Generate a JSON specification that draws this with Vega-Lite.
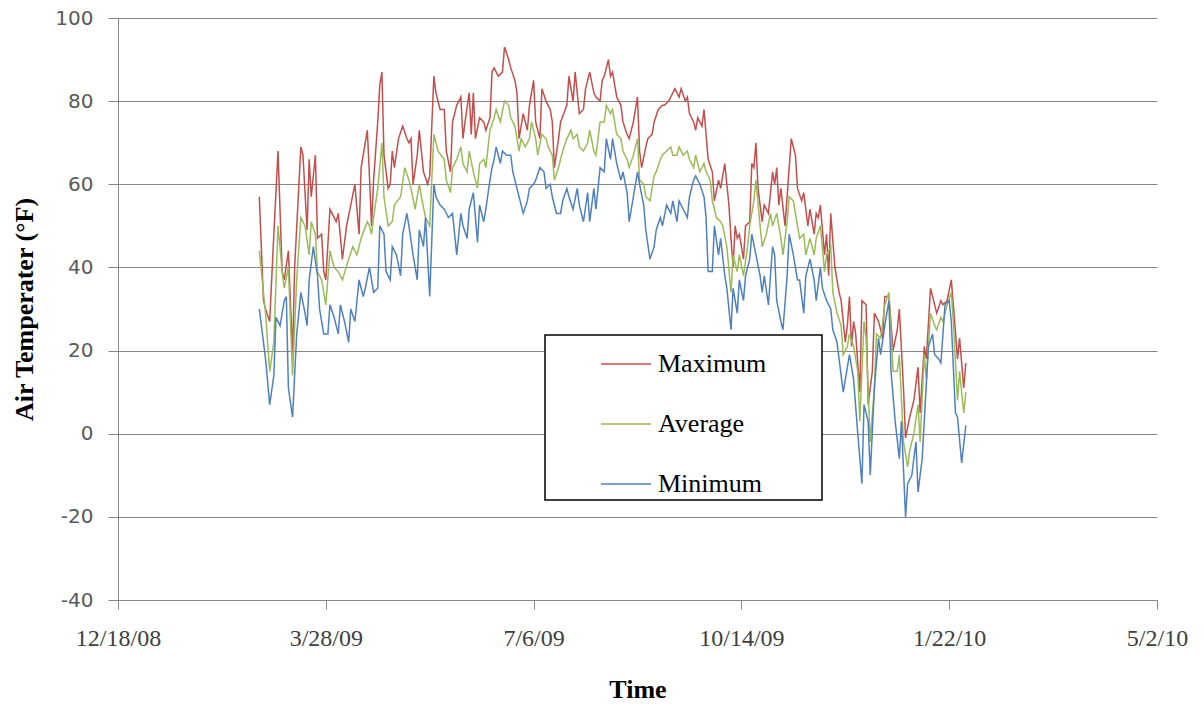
{
  "$schema": "https://vega.github.io/schema/vega-lite/v6.json",
  "width": 1039,
  "height": 582,
  "autosize": {"type": "none"},
  "padding": {"left": 118, "top": 18, "right": 47, "bottom": 107},
  "background": "white",
  "config": {
    "view": {"stroke": null},
    "legend": {"strokeWidth": 1.5}
  },
  "datasets": {
    "maximum": [
      {"date":"2009-02-24","temp":57},{"date":"2009-02-26","temp":32},{"date":"2009-02-27","temp":30},{"date":"2009-03-01","temp":27},{"date":"2009-03-03","temp":48},{"date":"2009-03-05","temp":68},{"date":"2009-03-07","temp":39},{"date":"2009-03-08","temp":37},{"date":"2009-03-10","temp":44},{"date":"2009-03-12","temp":19},{"date":"2009-03-13","temp":40},{"date":"2009-03-16","temp":69},{"date":"2009-03-17","temp":67},{"date":"2009-03-19","temp":49},{"date":"2009-03-20","temp":66},{"date":"2009-03-21","temp":57},{"date":"2009-03-23","temp":67},{"date":"2009-03-24","temp":47},{"date":"2009-03-26","temp":48},{"date":"2009-03-27","temp":39},{"date":"2009-03-28","temp":37},{"date":"2009-03-30","temp":54},{"date":"2009-03-31","temp":53},{"date":"2009-04-02","temp":51},{"date":"2009-04-03","temp":53},{"date":"2009-04-05","temp":42},{"date":"2009-04-07","temp":50},{"date":"2009-04-09","temp":55},{"date":"2009-04-11","temp":60},{"date":"2009-04-13","temp":48},{"date":"2009-04-14","temp":64},{"date":"2009-04-17","temp":73},{"date":"2009-04-18","temp":62},{"date":"2009-04-19","temp":50},{"date":"2009-04-20","temp":61},{"date":"2009-04-22","temp":75},{"date":"2009-04-23","temp":84},{"date":"2009-04-24","temp":87},{"date":"2009-04-25","temp":67},{"date":"2009-04-27","temp":59},{"date":"2009-04-28","temp":60},{"date":"2009-04-29","temp":68},{"date":"2009-04-30","temp":64},{"date":"2009-05-02","temp":71},{"date":"2009-05-04","temp":74},{"date":"2009-05-06","temp":71},{"date":"2009-05-07","temp":70},{"date":"2009-05-08","temp":71},{"date":"2009-05-09","temp":60},{"date":"2009-05-11","temp":67},{"date":"2009-05-12","temp":73},{"date":"2009-05-14","temp":63},{"date":"2009-05-16","temp":60},{"date":"2009-05-17","temp":62},{"date":"2009-05-19","temp":86},{"date":"2009-05-20","temp":82},{"date":"2009-05-22","temp":78},{"date":"2009-05-24","temp":78},{"date":"2009-05-25","temp":68},{"date":"2009-05-27","temp":63},{"date":"2009-05-28","temp":75},{"date":"2009-05-30","temp":79},{"date":"2009-06-01","temp":81},{"date":"2009-06-02","temp":71},{"date":"2009-06-03","temp":75},{"date":"2009-06-05","temp":82},{"date":"2009-06-06","temp":72},{"date":"2009-06-07","temp":82},{"date":"2009-06-08","temp":71},{"date":"2009-06-10","temp":76},{"date":"2009-06-12","temp":75},{"date":"2009-06-13","temp":73},{"date":"2009-06-15","temp":76},{"date":"2009-06-16","temp":87},{"date":"2009-06-17","temp":88},{"date":"2009-06-19","temp":86},{"date":"2009-06-21","temp":87},{"date":"2009-06-22","temp":93},{"date":"2009-06-24","temp":90},{"date":"2009-06-25","temp":88},{"date":"2009-06-27","temp":85},{"date":"2009-06-28","temp":82},{"date":"2009-06-29","temp":71},{"date":"2009-07-01","temp":77},{"date":"2009-07-03","temp":73},{"date":"2009-07-04","temp":79},{"date":"2009-07-06","temp":85},{"date":"2009-07-07","temp":75},{"date":"2009-07-09","temp":71},{"date":"2009-07-10","temp":83},{"date":"2009-07-12","temp":80},{"date":"2009-07-14","temp":78},{"date":"2009-07-15","temp":75},{"date":"2009-07-16","temp":64},{"date":"2009-07-18","temp":71},{"date":"2009-07-19","temp":75},{"date":"2009-07-22","temp":79},{"date":"2009-07-23","temp":86},{"date":"2009-07-25","temp":80},{"date":"2009-07-26","temp":87},{"date":"2009-07-28","temp":77},{"date":"2009-07-30","temp":78},{"date":"2009-07-31","temp":83},{"date":"2009-08-02","temp":87},{"date":"2009-08-04","temp":82},{"date":"2009-08-05","temp":81},{"date":"2009-08-07","temp":80},{"date":"2009-08-08","temp":85},{"date":"2009-08-09","temp":86},{"date":"2009-08-11","temp":90},{"date":"2009-08-12","temp":86},{"date":"2009-08-13","temp":87},{"date":"2009-08-14","temp":84},{"date":"2009-08-15","temp":81},{"date":"2009-08-17","temp":79},{"date":"2009-08-18","temp":75},{"date":"2009-08-20","temp":72},{"date":"2009-08-21","temp":71},{"date":"2009-08-23","temp":75},{"date":"2009-08-25","temp":81},{"date":"2009-08-26","temp":68},{"date":"2009-08-27","temp":64},{"date":"2009-08-29","temp":69},{"date":"2009-08-30","temp":71},{"date":"2009-09-01","temp":72},{"date":"2009-09-02","temp":75},{"date":"2009-09-04","temp":78},{"date":"2009-09-06","temp":79},{"date":"2009-09-07","temp":79},{"date":"2009-09-09","temp":80},{"date":"2009-09-10","temp":81},{"date":"2009-09-12","temp":83},{"date":"2009-09-14","temp":81},{"date":"2009-09-15","temp":83},{"date":"2009-09-17","temp":80},{"date":"2009-09-18","temp":81},{"date":"2009-09-19","temp":77},{"date":"2009-09-21","temp":75},{"date":"2009-09-22","temp":73},{"date":"2009-09-23","temp":76},{"date":"2009-09-25","temp":74},{"date":"2009-09-26","temp":78},{"date":"2009-09-28","temp":66},{"date":"2009-09-30","temp":63},{"date":"2009-10-01","temp":56},{"date":"2009-10-03","temp":61},{"date":"2009-10-04","temp":59},{"date":"2009-10-06","temp":65},{"date":"2009-10-08","temp":55},{"date":"2009-10-09","temp":47},{"date":"2009-10-10","temp":40},{"date":"2009-10-11","temp":50},{"date":"2009-10-12","temp":47},{"date":"2009-10-13","temp":48},{"date":"2009-10-15","temp":42},{"date":"2009-10-16","temp":50},{"date":"2009-10-18","temp":51},{"date":"2009-10-19","temp":65},{"date":"2009-10-20","temp":64},{"date":"2009-10-21","temp":70},{"date":"2009-10-22","temp":59},{"date":"2009-10-24","temp":51},{"date":"2009-10-25","temp":55},{"date":"2009-10-27","temp":53},{"date":"2009-10-29","temp":63},{"date":"2009-10-30","temp":60},{"date":"2009-10-31","temp":64},{"date":"2009-11-01","temp":55},{"date":"2009-11-02","temp":59},{"date":"2009-11-04","temp":50},{"date":"2009-11-06","temp":64},{"date":"2009-11-07","temp":71},{"date":"2009-11-09","temp":67},{"date":"2009-11-10","temp":59},{"date":"2009-11-12","temp":56},{"date":"2009-11-13","temp":58},{"date":"2009-11-15","temp":50},{"date":"2009-11-16","temp":54},{"date":"2009-11-18","temp":48},{"date":"2009-11-19","temp":53},{"date":"2009-11-20","temp":52},{"date":"2009-11-21","temp":55},{"date":"2009-11-23","temp":43},{"date":"2009-11-24","temp":48},{"date":"2009-11-25","temp":38},{"date":"2009-11-26","temp":53},{"date":"2009-11-28","temp":40},{"date":"2009-11-30","temp":34},{"date":"2009-12-01","temp":32},{"date":"2009-12-03","temp":22},{"date":"2009-12-04","temp":26},{"date":"2009-12-05","temp":33},{"date":"2009-12-06","temp":21},{"date":"2009-12-07","temp":27},{"date":"2009-12-08","temp":24},{"date":"2009-12-10","temp":10},{"date":"2009-12-11","temp":32},{"date":"2009-12-13","temp":31},{"date":"2009-12-14","temp":7},{"date":"2009-12-16","temp":15},{"date":"2009-12-17","temp":29},{"date":"2009-12-19","temp":27},{"date":"2009-12-21","temp":23},{"date":"2009-12-22","temp":33},{"date":"2009-12-24","temp":33},{"date":"2009-12-26","temp":20},{"date":"2009-12-28","temp":25},{"date":"2009-12-29","temp":30},{"date":"2009-12-31","temp":11},{"date":"2010-01-01","temp":-1},{"date":"2010-01-03","temp":4},{"date":"2010-01-05","temp":8},{"date":"2010-01-07","temp":16},{"date":"2010-01-08","temp":5},{"date":"2010-01-10","temp":21},{"date":"2010-01-11","temp":18},{"date":"2010-01-13","temp":35},{"date":"2010-01-15","temp":31},{"date":"2010-01-16","temp":29},{"date":"2010-01-18","temp":32},{"date":"2010-01-19","temp":31},{"date":"2010-01-21","temp":32},{"date":"2010-01-23","temp":37},{"date":"2010-01-24","temp":31},{"date":"2010-01-26","temp":18},{"date":"2010-01-27","temp":23},{"date":"2010-01-29","temp":11},{"date":"2010-01-30","temp":17}
    ],
    "average": [
      {"date":"2009-02-24","temp":44},{"date":"2009-02-27","temp":29},{"date":"2009-03-01","temp":15},{"date":"2009-03-03","temp":22},{"date":"2009-03-05","temp":50},{"date":"2009-03-07","temp":39},{"date":"2009-03-08","temp":35},{"date":"2009-03-10","temp":40},{"date":"2009-03-12","temp":14},{"date":"2009-03-14","temp":37},{"date":"2009-03-16","temp":52},{"date":"2009-03-18","temp":50},{"date":"2009-03-20","temp":43},{"date":"2009-03-21","temp":51},{"date":"2009-03-23","temp":48},{"date":"2009-03-24","temp":39},{"date":"2009-03-26","temp":37},{"date":"2009-03-28","temp":31},{"date":"2009-03-30","temp":44},{"date":"2009-04-01","temp":40},{"date":"2009-04-03","temp":39},{"date":"2009-04-05","temp":37},{"date":"2009-04-08","temp":42},{"date":"2009-04-10","temp":45},{"date":"2009-04-12","temp":43},{"date":"2009-04-14","temp":47},{"date":"2009-04-17","temp":51},{"date":"2009-04-18","temp":50},{"date":"2009-04-19","temp":48},{"date":"2009-04-20","temp":52},{"date":"2009-04-22","temp":59},{"date":"2009-04-24","temp":70},{"date":"2009-04-25","temp":57},{"date":"2009-04-27","temp":50},{"date":"2009-04-29","temp":51},{"date":"2009-04-30","temp":55},{"date":"2009-05-03","temp":57},{"date":"2009-05-05","temp":64},{"date":"2009-05-07","temp":61},{"date":"2009-05-08","temp":59},{"date":"2009-05-10","temp":54},{"date":"2009-05-12","temp":60},{"date":"2009-05-13","temp":57},{"date":"2009-05-15","temp":52},{"date":"2009-05-17","temp":50},{"date":"2009-05-19","temp":72},{"date":"2009-05-21","temp":68},{"date":"2009-05-24","temp":66},{"date":"2009-05-25","temp":61},{"date":"2009-05-27","temp":58},{"date":"2009-05-28","temp":64},{"date":"2009-05-30","temp":66},{"date":"2009-06-01","temp":69},{"date":"2009-06-02","temp":65},{"date":"2009-06-04","temp":63},{"date":"2009-06-05","temp":68},{"date":"2009-06-07","temp":63},{"date":"2009-06-09","temp":59},{"date":"2009-06-10","temp":65},{"date":"2009-06-12","temp":66},{"date":"2009-06-13","temp":64},{"date":"2009-06-15","temp":73},{"date":"2009-06-17","temp":76},{"date":"2009-06-18","temp":78},{"date":"2009-06-20","temp":75},{"date":"2009-06-22","temp":80},{"date":"2009-06-24","temp":79},{"date":"2009-06-25","temp":76},{"date":"2009-06-27","temp":74},{"date":"2009-06-29","temp":68},{"date":"2009-06-30","temp":71},{"date":"2009-07-02","temp":69},{"date":"2009-07-04","temp":71},{"date":"2009-07-05","temp":75},{"date":"2009-07-07","temp":71},{"date":"2009-07-08","temp":67},{"date":"2009-07-10","temp":72},{"date":"2009-07-12","temp":71},{"date":"2009-07-13","temp":69},{"date":"2009-07-15","temp":67},{"date":"2009-07-16","temp":61},{"date":"2009-07-18","temp":64},{"date":"2009-07-20","temp":68},{"date":"2009-07-22","temp":71},{"date":"2009-07-24","temp":73},{"date":"2009-07-25","temp":71},{"date":"2009-07-27","temp":72},{"date":"2009-07-28","temp":69},{"date":"2009-07-30","temp":68},{"date":"2009-08-01","temp":70},{"date":"2009-08-02","temp":73},{"date":"2009-08-04","temp":68},{"date":"2009-08-05","temp":67},{"date":"2009-08-07","temp":75},{"date":"2009-08-09","temp":75},{"date":"2009-08-10","temp":79},{"date":"2009-08-12","temp":77},{"date":"2009-08-13","temp":78},{"date":"2009-08-15","temp":72},{"date":"2009-08-17","temp":71},{"date":"2009-08-18","temp":68},{"date":"2009-08-20","temp":66},{"date":"2009-08-21","temp":64},{"date":"2009-08-23","temp":67},{"date":"2009-08-25","temp":71},{"date":"2009-08-26","temp":61},{"date":"2009-08-28","temp":60},{"date":"2009-08-29","temp":57},{"date":"2009-08-31","temp":56},{"date":"2009-09-02","temp":62},{"date":"2009-09-03","temp":63},{"date":"2009-09-05","temp":66},{"date":"2009-09-06","temp":67},{"date":"2009-09-08","temp":68},{"date":"2009-09-10","temp":69},{"date":"2009-09-11","temp":67},{"date":"2009-09-13","temp":67},{"date":"2009-09-14","temp":69},{"date":"2009-09-16","temp":67},{"date":"2009-09-18","temp":68},{"date":"2009-09-19","temp":66},{"date":"2009-09-21","temp":64},{"date":"2009-09-22","temp":67},{"date":"2009-09-24","temp":63},{"date":"2009-09-26","temp":65},{"date":"2009-09-27","temp":63},{"date":"2009-09-29","temp":61},{"date":"2009-09-30","temp":56},{"date":"2009-10-02","temp":52},{"date":"2009-10-04","temp":51},{"date":"2009-10-05","temp":50},{"date":"2009-10-07","temp":45},{"date":"2009-10-09","temp":34},{"date":"2009-10-10","temp":43},{"date":"2009-10-12","temp":39},{"date":"2009-10-13","temp":43},{"date":"2009-10-15","temp":38},{"date":"2009-10-17","temp":45},{"date":"2009-10-18","temp":50},{"date":"2009-10-20","temp":56},{"date":"2009-10-21","temp":61},{"date":"2009-10-23","temp":50},{"date":"2009-10-24","temp":45},{"date":"2009-10-26","temp":48},{"date":"2009-10-28","temp":53},{"date":"2009-10-29","temp":50},{"date":"2009-10-31","temp":53},{"date":"2009-11-02","temp":47},{"date":"2009-11-03","temp":43},{"date":"2009-11-05","temp":51},{"date":"2009-11-06","temp":57},{"date":"2009-11-08","temp":56},{"date":"2009-11-10","temp":50},{"date":"2009-11-11","temp":47},{"date":"2009-11-13","temp":48},{"date":"2009-11-14","temp":43},{"date":"2009-11-16","temp":47},{"date":"2009-11-18","temp":43},{"date":"2009-11-19","temp":47},{"date":"2009-11-21","temp":50},{"date":"2009-11-23","temp":39},{"date":"2009-11-24","temp":43},{"date":"2009-11-26","temp":45},{"date":"2009-11-27","temp":34},{"date":"2009-11-29","temp":29},{"date":"2009-12-01","temp":26},{"date":"2009-12-02","temp":19},{"date":"2009-12-04","temp":21},{"date":"2009-12-05","temp":24},{"date":"2009-12-07","temp":21},{"date":"2009-12-09","temp":15},{"date":"2009-12-10","temp":3},{"date":"2009-12-12","temp":27},{"date":"2009-12-13","temp":23},{"date":"2009-12-15","temp":-2},{"date":"2009-12-17","temp":11},{"date":"2009-12-18","temp":24},{"date":"2009-12-20","temp":23},{"date":"2009-12-22","temp":31},{"date":"2009-12-24","temp":34},{"date":"2009-12-26","temp":15},{"date":"2009-12-28","temp":15},{"date":"2009-12-29","temp":19},{"date":"2009-12-31","temp":-2},{"date":"2010-01-02","temp":-8},{"date":"2010-01-03","temp":-4},{"date":"2010-01-05","temp":0},{"date":"2010-01-07","temp":7},{"date":"2010-01-08","temp":-2},{"date":"2010-01-10","temp":19},{"date":"2010-01-11","temp":13},{"date":"2010-01-13","temp":29},{"date":"2010-01-15","temp":26},{"date":"2010-01-16","temp":25},{"date":"2010-01-18","temp":28},{"date":"2010-01-19","temp":27},{"date":"2010-01-21","temp":31},{"date":"2010-01-23","temp":34},{"date":"2010-01-24","temp":27},{"date":"2010-01-26","temp":8},{"date":"2010-01-27","temp":15},{"date":"2010-01-29","temp":5},{"date":"2010-01-30","temp":10}
    ],
    "minimum": [
      {"date":"2009-02-24","temp":30},{"date":"2009-02-27","temp":18},{"date":"2009-03-01","temp":7},{"date":"2009-03-03","temp":14},{"date":"2009-03-04","temp":28},{"date":"2009-03-06","temp":26},{"date":"2009-03-08","temp":32},{"date":"2009-03-09","temp":33},{"date":"2009-03-10","temp":11},{"date":"2009-03-12","temp":4},{"date":"2009-03-14","temp":24},{"date":"2009-03-16","temp":34},{"date":"2009-03-18","temp":29},{"date":"2009-03-19","temp":26},{"date":"2009-03-20","temp":37},{"date":"2009-03-22","temp":45},{"date":"2009-03-24","temp":38},{"date":"2009-03-25","temp":30},{"date":"2009-03-27","temp":24},{"date":"2009-03-29","temp":24},{"date":"2009-03-30","temp":31},{"date":"2009-04-01","temp":28},{"date":"2009-04-03","temp":24},{"date":"2009-04-04","temp":31},{"date":"2009-04-06","temp":27},{"date":"2009-04-08","temp":22},{"date":"2009-04-09","temp":30},{"date":"2009-04-11","temp":27},{"date":"2009-04-13","temp":37},{"date":"2009-04-15","temp":33},{"date":"2009-04-16","temp":35},{"date":"2009-04-18","temp":40},{"date":"2009-04-20","temp":34},{"date":"2009-04-22","temp":35},{"date":"2009-04-23","temp":50},{"date":"2009-04-25","temp":48},{"date":"2009-04-26","temp":39},{"date":"2009-04-28","temp":37},{"date":"2009-04-29","temp":45},{"date":"2009-05-01","temp":43},{"date":"2009-05-03","temp":38},{"date":"2009-05-04","temp":48},{"date":"2009-05-06","temp":53},{"date":"2009-05-07","temp":50},{"date":"2009-05-09","temp":43},{"date":"2009-05-11","temp":37},{"date":"2009-05-12","temp":49},{"date":"2009-05-14","temp":45},{"date":"2009-05-15","temp":52},{"date":"2009-05-17","temp":33},{"date":"2009-05-19","temp":60},{"date":"2009-05-20","temp":57},{"date":"2009-05-22","temp":55},{"date":"2009-05-24","temp":54},{"date":"2009-05-26","temp":52},{"date":"2009-05-28","temp":53},{"date":"2009-05-30","temp":43},{"date":"2009-06-01","temp":53},{"date":"2009-06-02","temp":50},{"date":"2009-06-04","temp":47},{"date":"2009-06-05","temp":54},{"date":"2009-06-07","temp":58},{"date":"2009-06-09","temp":46},{"date":"2009-06-10","temp":55},{"date":"2009-06-12","temp":51},{"date":"2009-06-13","temp":54},{"date":"2009-06-15","temp":61},{"date":"2009-06-16","temp":64},{"date":"2009-06-17","temp":66},{"date":"2009-06-18","temp":69},{"date":"2009-06-20","temp":65},{"date":"2009-06-21","temp":68},{"date":"2009-06-23","temp":67},{"date":"2009-06-25","temp":67},{"date":"2009-06-26","temp":63},{"date":"2009-06-28","temp":59},{"date":"2009-06-29","temp":57},{"date":"2009-07-01","temp":53},{"date":"2009-07-03","temp":56},{"date":"2009-07-04","temp":59},{"date":"2009-07-06","temp":60},{"date":"2009-07-07","temp":61},{"date":"2009-07-09","temp":64},{"date":"2009-07-11","temp":63},{"date":"2009-07-12","temp":59},{"date":"2009-07-14","temp":60},{"date":"2009-07-15","temp":57},{"date":"2009-07-17","temp":53},{"date":"2009-07-19","temp":53},{"date":"2009-07-20","temp":56},{"date":"2009-07-22","temp":59},{"date":"2009-07-23","temp":57},{"date":"2009-07-25","temp":54},{"date":"2009-07-27","temp":59},{"date":"2009-07-28","temp":55},{"date":"2009-07-30","temp":51},{"date":"2009-08-01","temp":58},{"date":"2009-08-02","temp":51},{"date":"2009-08-04","temp":59},{"date":"2009-08-05","temp":54},{"date":"2009-08-07","temp":64},{"date":"2009-08-09","temp":63},{"date":"2009-08-10","temp":71},{"date":"2009-08-12","temp":66},{"date":"2009-08-13","temp":71},{"date":"2009-08-15","temp":65},{"date":"2009-08-17","temp":61},{"date":"2009-08-18","temp":63},{"date":"2009-08-20","temp":58},{"date":"2009-08-21","temp":51},{"date":"2009-08-23","temp":57},{"date":"2009-08-25","temp":63},{"date":"2009-08-26","temp":60},{"date":"2009-08-28","temp":55},{"date":"2009-08-29","temp":49},{"date":"2009-08-31","temp":42},{"date":"2009-09-02","temp":45},{"date":"2009-09-03","temp":49},{"date":"2009-09-05","temp":52},{"date":"2009-09-06","temp":50},{"date":"2009-09-08","temp":55},{"date":"2009-09-10","temp":53},{"date":"2009-09-11","temp":56},{"date":"2009-09-13","temp":51},{"date":"2009-09-14","temp":56},{"date":"2009-09-16","temp":54},{"date":"2009-09-18","temp":52},{"date":"2009-09-19","temp":57},{"date":"2009-09-21","temp":61},{"date":"2009-09-22","temp":62},{"date":"2009-09-24","temp":60},{"date":"2009-09-26","temp":57},{"date":"2009-09-27","temp":52},{"date":"2009-09-28","temp":39},{"date":"2009-09-30","temp":39},{"date":"2009-10-01","temp":50},{"date":"2009-10-03","temp":43},{"date":"2009-10-04","temp":47},{"date":"2009-10-06","temp":38},{"date":"2009-10-07","temp":35},{"date":"2009-10-09","temp":25},{"date":"2009-10-10","temp":35},{"date":"2009-10-12","temp":29},{"date":"2009-10-13","temp":37},{"date":"2009-10-15","temp":32},{"date":"2009-10-16","temp":38},{"date":"2009-10-18","temp":42},{"date":"2009-10-19","temp":48},{"date":"2009-10-21","temp":43},{"date":"2009-10-23","temp":38},{"date":"2009-10-24","temp":34},{"date":"2009-10-25","temp":38},{"date":"2009-10-27","temp":31},{"date":"2009-10-29","temp":45},{"date":"2009-10-30","temp":43},{"date":"2009-10-31","temp":32},{"date":"2009-11-02","temp":27},{"date":"2009-11-03","temp":25},{"date":"2009-11-05","temp":38},{"date":"2009-11-06","temp":48},{"date":"2009-11-08","temp":43},{"date":"2009-11-10","temp":37},{"date":"2009-11-11","temp":37},{"date":"2009-11-13","temp":29},{"date":"2009-11-14","temp":38},{"date":"2009-11-16","temp":42},{"date":"2009-11-18","temp":37},{"date":"2009-11-19","temp":32},{"date":"2009-11-21","temp":40},{"date":"2009-11-22","temp":35},{"date":"2009-11-24","temp":32},{"date":"2009-11-26","temp":30},{"date":"2009-11-27","temp":25},{"date":"2009-11-29","temp":22},{"date":"2009-11-30","temp":18},{"date":"2009-12-02","temp":10},{"date":"2009-12-04","temp":16},{"date":"2009-12-05","temp":19},{"date":"2009-12-07","temp":13},{"date":"2009-12-09","temp":0},{"date":"2009-12-11","temp":-12},{"date":"2009-12-12","temp":7},{"date":"2009-12-14","temp":3},{"date":"2009-12-15","temp":-10},{"date":"2009-12-17","temp":11},{"date":"2009-12-19","temp":23},{"date":"2009-12-20","temp":19},{"date":"2009-12-22","temp":26},{"date":"2009-12-24","temp":32},{"date":"2009-12-25","temp":15},{"date":"2009-12-27","temp":3},{"date":"2009-12-29","temp":-6},{"date":"2009-12-30","temp":3},{"date":"2010-01-01","temp":-20},{"date":"2010-01-02","temp":-12},{"date":"2010-01-04","temp":-10},{"date":"2010-01-06","temp":-2},{"date":"2010-01-07","temp":-14},{"date":"2010-01-09","temp":-6},{"date":"2010-01-10","temp":3},{"date":"2010-01-12","temp":21},{"date":"2010-01-14","temp":24},{"date":"2010-01-15","temp":19},{"date":"2010-01-17","temp":18},{"date":"2010-01-18","temp":17},{"date":"2010-01-20","temp":31},{"date":"2010-01-22","temp":32},{"date":"2010-01-23","temp":27},{"date":"2010-01-25","temp":5},{"date":"2010-01-26","temp":4},{"date":"2010-01-28","temp":-7},{"date":"2010-01-30","temp":2}
    ]
  },
  "encoding": {
    "x": {
      "field": "date",
      "type": "temporal",
      "scale": {
        "type": "utc",
        "domain": [
          {"year": 2008, "month": 12, "date": 18, "utc": true},
          {"year": 2010, "month": 5, "date": 2, "utc": true}
        ]
      },
      "axis": {
        "values": [
          {"year": 2008, "month": 12, "date": 18, "utc": true},
          {"year": 2009, "month": 3, "date": 28, "utc": true},
          {"year": 2009, "month": 7, "date": 6, "utc": true},
          {"year": 2009, "month": 10, "date": 14, "utc": true},
          {"year": 2010, "month": 1, "date": 22, "utc": true},
          {"year": 2010, "month": 5, "date": 2, "utc": true}
        ],
        "format": "%-m/%-d/%y",
        "grid": false,
        "domainColor": "#868686",
        "tickColor": "#868686",
        "tickSize": 9,
        "labelFont": "Liberation Serif",
        "labelFontSize": 24,
        "labelColor": "#404040",
        "labelPadding": 17,
        "labelFlush": false,
        "labelOverlap": false,
        "title": "Time",
        "titleFont": "Liberation Serif",
        "titleFontSize": 26,
        "titleFontWeight": "bold",
        "titleColor": "#000000",
        "titleY": 89,
        "titleBaseline": "middle"
      }
    },
    "y": {
      "field": "temp",
      "type": "quantitative",
      "scale": {"domain": [-40, 100], "nice": false, "zero": false},
      "axis": {
        "values": [-40, -20, 0, 20, 40, 60, 80, 100],
        "labelExpr": "toString(datum.value)",
        "grid": true,
        "gridColor": "#868686",
        "gridWidth": 1,
        "domainColor": "#868686",
        "tickColor": "#868686",
        "tickSize": 10,
        "labelFont": "DejaVu Sans",
        "labelFontSize": 20,
        "labelColor": "#595959",
        "labelPadding": 15,
        "title": "Air Temperater (°F)",
        "titleFont": "Liberation Serif",
        "titleFontSize": 26,
        "titleFontWeight": "bold",
        "titleColor": "#000000",
        "titleX": -94,
        "titleY": 291,
        "titleAngle": -90,
        "titleBaseline": "middle",
        "titleAlign": "center"
      }
    }
  },
  "layer": [
    {
      "data": {"name": "maximum"},
      "mark": {"type": "line", "strokeWidth": 1.5},
      "encoding": {
        "color": {
          "datum": "Maximum",
          "type": "nominal",
          "scale": {"domain": ["Maximum", "Average", "Minimum"], "range": ["#C0504D", "#9BBB59", "#4F81BD"]},
          "legend": {
            "orient": "none",
            "legendX": 427,
            "legendY": 317,
            "title": "MMM",
            "titleOrient": "right",
            "titleOpacity": 0,
            "titleFont": "Liberation Serif",
            "titleFontSize": 18,
            "titleFontWeight": "normal",
            "titlePadding": 4,
            "symbolType": "stroke",
            "symbolSize": 2500,
            "symbolStrokeWidth": 1.5,
            "symbolOffset": 52,
            "labelOffset": 6,
            "labelFont": "Liberation Serif",
            "labelFontSize": 26,
            "labelColor": "#000000",
            "padding": 3,
            "rowPadding": 21,
            "strokeColor": "#000000",
            "fillColor": "#FFFFFF"
          }
        }
      }
    },
    {
      "data": {"name": "average"},
      "mark": {"type": "line", "strokeWidth": 1.5},
      "encoding": {"color": {"datum": "Average", "type": "nominal"}}
    },
    {
      "data": {"name": "minimum"},
      "mark": {"type": "line", "strokeWidth": 1.5},
      "encoding": {"color": {"datum": "Minimum", "type": "nominal"}}
    }
  ]
}
